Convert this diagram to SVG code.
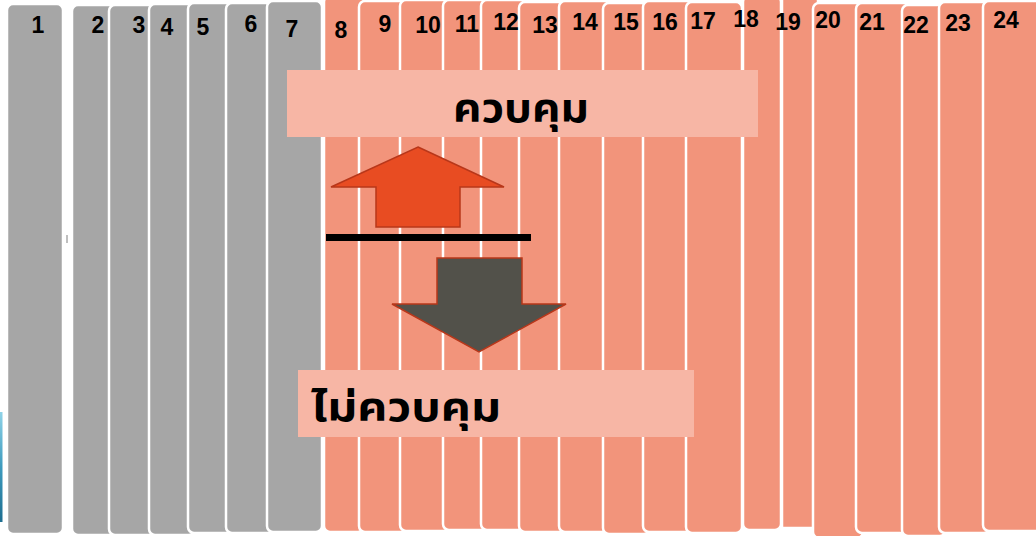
<svg xmlns="http://www.w3.org/2000/svg" width="1036" height="536" viewBox="0 0 1036 536">
<style>
.g{fill:#A6A6A6;stroke:#FFFFFF;stroke-width:2.5}
.s{fill:#F2947B;stroke:#FFFFFF;stroke-width:2.5}
.n{font-family:"Liberation Sans",Arial,sans-serif;font-weight:bold;font-size:23px;fill:#000;text-anchor:middle}
.lb{fill:#F7B6A5}
.th{font-family:"Noto Sans Thai","Tahoma","Noto Sans","DejaVu Sans",sans-serif;font-weight:bold;font-size:39px;fill:#000}
</style>
<defs>
<linearGradient id="blue" x1="0" y1="0" x2="0" y2="1">
<stop offset="0" stop-color="#8FD3E8"/>
<stop offset="0.5" stop-color="#3E9BBE"/>
<stop offset="1" stop-color="#1E6E90"/>
</linearGradient>
</defs>
<rect width="1036" height="536" fill="#FFFFFF"/>
<rect x="0" y="412" width="2.5" height="110" fill="url(#blue)"/>
<g id="columns">
<g id="c1"><rect class="g" x="7" y="4" width="56" height="530" rx="6"/></g>
<g id="c2"><rect class="g" x="72" y="5" width="44" height="530" rx="6"/></g>
<g id="c3"><rect class="g" x="109" y="5" width="47" height="530" rx="6"/></g>
<g id="c4"><rect class="g" x="149" y="4" width="46" height="531" rx="6"/></g>
<g id="c5"><rect class="g" x="188" y="3" width="45" height="530" rx="6"/></g>
<g id="c6"><rect class="g" x="226" y="3" width="48" height="530" rx="6"/></g>
<g id="c7"><rect class="g" x="267" y="1" width="55" height="531" rx="6"/></g>
<g id="c8"><rect class="s" x="324" y="-4" width="40" height="536" rx="6"/></g>
<g id="c9"><rect class="s" x="359" y="1" width="48" height="531" rx="6"/></g>
<g id="c10"><rect class="s" x="400" y="0" width="50" height="531" rx="6"/></g>
<g id="c11"><rect class="s" x="443" y="0" width="45" height="530" rx="6"/></g>
<g id="c12"><rect class="s" x="481" y="0" width="45" height="530" rx="6"/></g>
<g id="c13"><rect class="s" x="519" y="2" width="47" height="530" rx="6"/></g>
<g id="c14"><rect class="s" x="559" y="1" width="51" height="531" rx="6"/></g>
<g id="c15"><rect class="s" x="603" y="3" width="47" height="531" rx="6"/></g>
<g id="c16"><rect class="s" x="643" y="1" width="50" height="531" rx="6"/></g>
<g id="c18"><rect class="s" x="743" y="-4" width="38" height="534" rx="6"/></g>
<g id="c17"><rect class="s" x="686" y="2" width="56" height="531" rx="6"/></g>
<g id="c19"><rect class="s" x="782" y="-4" width="36" height="532" rx="0"/></g>
<g id="c20"><rect class="s" x="813" y="3" width="50" height="535" rx="6"/></g>
<g id="c21"><rect class="s" x="856" y="3" width="53" height="530" rx="6"/></g>
<g id="c22"><rect class="s" x="902" y="5" width="44" height="531" rx="6"/></g>
<g id="c23"><rect class="s" x="939" y="2" width="51" height="531" rx="6"/></g>
<g id="c24"><rect class="s" x="983" y="1" width="60" height="530" rx="6"/></g>
</g>
<g id="numbers">
<text class="n" x="38" y="33">1</text>
<text class="n" x="98" y="33">2</text>
<text class="n" x="139" y="33">3</text>
<text class="n" x="167" y="35">4</text>
<text class="n" x="203" y="35">5</text>
<text class="n" x="251" y="32">6</text>
<text class="n" x="292" y="37">7</text>
<text class="n" x="341" y="38">8</text>
<text class="n" x="385" y="32">9</text>
<text class="n" x="428" y="33">10</text>
<text class="n" x="467" y="32">11</text>
<text class="n" x="506" y="30">12</text>
<text class="n" x="545" y="33">13</text>
<text class="n" x="585" y="30">14</text>
<text class="n" x="626" y="30">15</text>
<text class="n" x="665" y="30">16</text>
<text class="n" x="703" y="29">17</text>
<text class="n" x="746" y="27">18</text>
<text class="n" x="788" y="30">19</text>
<text class="n" x="828" y="28">20</text>
<text class="n" x="872" y="30">21</text>
<text class="n" x="916" y="33">22</text>
<text class="n" x="958" y="31">23</text>
<text class="n" x="1006" y="28">24</text>
</g>
<rect x="66.5" y="235" width="1" height="8" fill="#808080"/>
<g id="label-control"><rect class="lb" x="287" y="70" width="471" height="67"/><text class="th" x="453" y="122" textLength="136" lengthAdjust="spacingAndGlyphs">ควบคุม</text></g>
<g id="label-nocontrol"><rect class="lb" x="298" y="370" width="396" height="67"/><text class="th" x="311" y="421" textLength="190" lengthAdjust="spacingAndGlyphs">ไม่ควบคุม</text></g>
<g id="connectors">
<polygon id="arrow-up" points="418,147 504,187 460,187 460,227 376,227 376,187 331,187" fill="#E84C22" stroke="#B8371A" stroke-width="1.5"/>
<line id="divider" x1="326" y1="237.5" x2="531" y2="237.5" stroke="#000000" stroke-width="7"/>
<polygon id="arrow-down" points="437,258 522,258 522,304 566,304 479,352 392,304 437,304" fill="#52514A" stroke="#B8371A" stroke-width="1.5"/>
</g>
</svg>
